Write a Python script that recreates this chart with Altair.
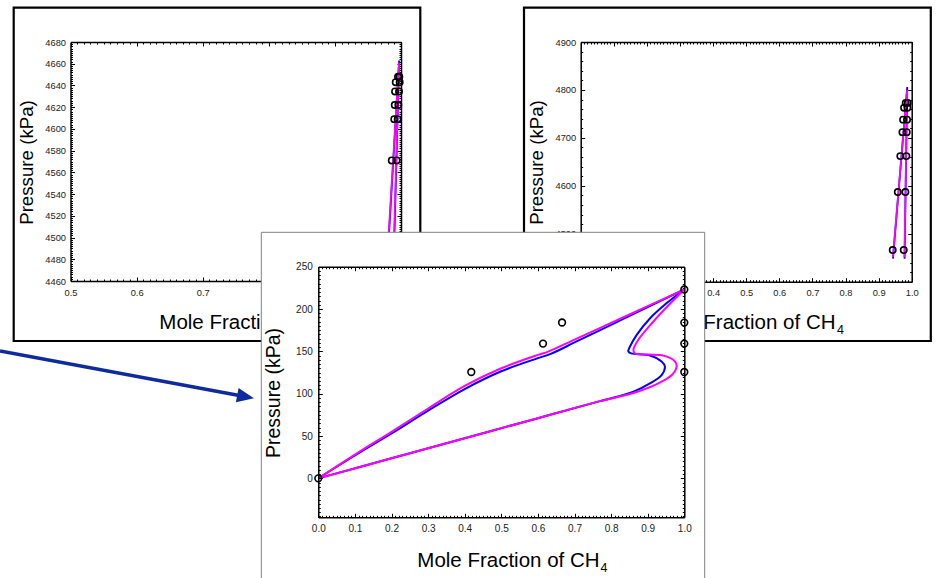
import altair as alt
import pandas as pd

W, H = 939, 578
FONT = "Liberation Sans"
NAVY = "#0d2b9e"
MAGENTA = "#ff00ff"
BLUE = "#0000ff"

# ---------------- Panel A (upper left) ----------------
a_exp_x = [0.986, 0.9935, 0.9898, 0.995, 0.9905, 0.996, 0.991, 0.997, 0.992, 0.998, 0.9955, 0.9975]
a_exp_p = [4571, 4571, 4609, 4609, 4622, 4622, 4634.5, 4634.5, 4643, 4643, 4648, 4648]
a_blu_x = [0.9785, 0.9972, 0.9885]
a_blu_p = [4468, 4663, 4468]
a_mag_x = [0.978, 0.997, 0.988]
a_mag_p = [4470, 4661, 4470]

# ---------------- Panel B (upper right) ----------------
b_exp_x = [0.9426, 0.976, 0.958, 0.981, 0.9656, 0.984, 0.972, 0.985, 0.974, 0.986, 0.977, 0.987, 0.982, 0.988]
b_exp_p = [4466, 4466, 4587, 4587, 4662, 4662, 4712, 4712, 4738, 4738, 4763, 4763, 4773, 4773]
b_blu_x = [0.9435, 0.9865, 0.9785]
b_blu_p = [4448, 4806, 4448]
b_mag_x = [0.943, 0.986, 0.978]
b_mag_p = [4451, 4800, 4451]

# ---------------- Panel C (front) ----------------
c_exp_x = [0.0, 0.418, 0.614, 0.666, 1.0, 1.0, 1.0, 1.0]
c_exp_p = [0.0, 125.6, 159.2, 184.1, 223.1, 184.0, 159.2, 125.6]
# upper branches (0 -> 1)
c_blu_up_x = [0.0, 0.1, 0.2, 0.3, 0.4, 0.5, 0.6, 0.635, 0.7, 0.8, 0.9, 1.0]
c_blu_up_p = [0, 27, 53, 80, 105.5, 126.5, 142, 147, 160.5, 181.4, 202.3, 223.1]
c_mag_up_x = [0.0, 0.1, 0.2, 0.3, 0.4, 0.5, 0.6, 0.628, 0.7, 0.8, 0.9, 1.0]
c_mag_up_p = [0, 28, 55, 82.5, 109.1, 130, 145.8, 149.7, 163.9, 183.6, 203.4, 223.1]
# S-loop and lower branches (1 -> 0)
c_blu_lo_x = [1.0, 0.952, 0.906, 0.87, 0.852, 0.847, 0.855, 0.906, 0.938, 0.947, 0.938,
              0.906, 0.861, 0.77, 0.6, 0.4, 0.2, 0.0]
c_blu_lo_p = [223.1, 207, 188.8, 169.4, 156, 150, 147.6, 145.2, 138, 132, 122,
              112.2, 102.4, 91.2, 71.1, 47.4, 23.7, 0]
c_mag_lo_x = [1.0, 0.958, 0.915, 0.874, 0.861, 0.865, 0.9, 0.943, 0.975, 0.979, 0.966,
              0.929, 0.861, 0.77, 0.6, 0.4, 0.2, 0.0]
c_mag_lo_p = [223.1, 205, 185, 163.5, 152, 147.5, 146.3, 145, 138, 132, 122,
              112.2, 100.8, 91.2, 71.1, 47.4, 23.7, 0]


def df(xs, ps, seg=0):
    return pd.DataFrame({"x": xs, "p": ps, "o": list(range(len(xs))), "s": [seg] * len(xs)})


def df2(a, b):
    return pd.concat([df(*a, seg=0), df(*b, seg=1)], ignore_index=True)


def ticks(lo, hi, step):
    n = int(round((hi - lo) / step))
    return [round(lo + i * step, 6) for i in range(n + 1)]


def panel(exp, blu, mag, xdom, ydom, xr, yr, xmaj, xmin, ymaj, ymin,
          xfmt, yfmt, lab_size, z, lw, psize, padx, pady, interp):
    x0, x1 = xr
    yt, yb = yr

    def sx():
        return alt.Scale(domain=xdom, range=[x0, x1], zero=False, nice=False)

    def sy():
        return alt.Scale(domain=ydom, range=[yb, yt], zero=False, nice=False)

    common = dict(grid=False, title=None, zindex=z, domainColor="black",
                  domainWidth=1.5, tickColor="black", tickWidth=1,
                  labelColor="#222222", labelFont=FONT, labelFontSize=lab_size,
                  labelFlush=False, labelOverlap=False)

    layers = [
        alt.Chart(blu).mark_line(color=BLUE, strokeWidth=lw, interpolate=interp).encode(
            x=alt.X("x:Q", scale=sx(), axis=None),
            y=alt.Y("p:Q", scale=sy(), axis=None), order="o:Q", detail="s:N"),
        alt.Chart(mag).mark_line(color=MAGENTA, strokeWidth=lw, interpolate=interp).encode(
            x=alt.X("x:Q", scale=sx(), axis=None),
            y=alt.Y("p:Q", scale=sy(), axis=None), order="o:Q", detail="s:N"),
        alt.Chart(exp).mark_point(shape="circle", filled=False, color="black",
                                  strokeWidth=1.6, size=psize, opacity=1).encode(
            x=alt.X("x:Q", scale=sx(), axis=None),
            y=alt.Y("p:Q", scale=sy(), axis=None)),
    ]

    specs = [
        (dict(orient="bottom", offset=yb - H, values=xmaj, format=xfmt, ticks=False,
              tickSize=0, domain=True, labels=True, labelPadding=padx),
         dict(orient="left", offset=-x0, values=ymaj, format=yfmt, ticks=False,
              tickSize=0, domain=True, labels=True, labelPadding=pady)),
        (dict(orient="top", offset=-yb, values=xmaj, labels=False, domain=False, tickSize=4),
         dict(orient="right", offset=x0 - W, values=ymaj, labels=False, domain=False, tickSize=4)),
        (dict(orient="top", offset=-yb, values=xmin, labels=False, domain=False, tickSize=2),
         dict(orient="right", offset=x0 - W, values=ymin, labels=False, domain=False, tickSize=2)),
        (dict(orient="bottom", offset=yt - H, values=xmaj, labels=False, domain=True, tickSize=4),
         dict(orient="left", offset=-x1, values=ymaj, labels=False, domain=True, tickSize=4)),
        (dict(orient="bottom", offset=yt - H, values=xmin, labels=False, domain=False, tickSize=2),
         dict(orient="left", offset=-x1, values=ymin, labels=False, domain=False, tickSize=2)),
    ]
    for xa, ya in specs:
        layers.append(
            alt.Chart(exp).mark_point(opacity=0).encode(
                x=alt.X("x:Q", scale=sx(), axis=alt.Axis(**common, **xa)),
                y=alt.Y("p:Q", scale=sy(), axis=alt.Axis(**common, **ya))))
    return layers


one = pd.DataFrame({"k": [0]})


def box(x0, y0, x1, y1, color, width, fill_op=0.0):
    return alt.Chart(one).mark_rect(fill="white", fillOpacity=fill_op, stroke=color,
                                    strokeWidth=width).encode(
        x=alt.value(x0), x2=alt.value(x1), y=alt.value(y0), y2=alt.value(y1))


def text(t, x, y, size, angle=0, align="center", baseline="alphabetic"):
    return alt.Chart(one).mark_text(text=t, fontSize=size, font=FONT, color="black",
                                    align=align, baseline=baseline, angle=angle).encode(
        x=alt.value(x), y=alt.value(y))


panelA = panel(df(a_exp_x, a_exp_p), df(a_blu_x, a_blu_p), df(a_mag_x, a_mag_p),
               [0.5, 1.0], [4460, 4680], (70.5, 401), (42, 281),
               ticks(0.5, 1.0, 0.1), ticks(0.5, 1.0, 0.01),
               ticks(4460, 4680, 20), ticks(4460, 4680, 2),
               ".1f", "d", 9.3, 0, 1.8, 40, 7, 5, "linear")

panelB = panel(df(b_exp_x, b_exp_p), df(b_blu_x, b_blu_p), df(b_mag_x, b_mag_p),
               [0.0, 1.0], [4400, 4900], (580.7, 911.7), (42, 281.7),
               ticks(0.0, 1.0, 0.1), ticks(0.0, 1.0, 0.01),
               ticks(4400, 4900, 100), ticks(4400, 4900, 20),
               ".1f", "d", 9.3, 0, 1.8, 40, 7, 5, "linear")

panelC = panel(df(c_exp_x, c_exp_p),
               df2((c_blu_up_x, c_blu_up_p), (c_blu_lo_x, c_blu_lo_p)),
               df2((c_mag_up_x, c_mag_up_p), (c_mag_lo_x, c_mag_lo_p)),
               [0.0, 1.0], [-46, 250], (318.3, 684.3), (266.7, 517.3),
               ticks(0.0, 1.0, 0.1), ticks(0.0, 1.0, 0.01),
               ticks(0, 250, 50), ticks(-45, 250, 5),
               ".1f", "d", 10, 1, 2, 45, 6, 6, "catmull-rom")

back_deco = [
    box(13.7, 7.7, 420.3, 341, "black", 2.2),
    box(524, 7.7, 930.8, 341, "black", 2.2),
    text("Pressure (kPa)", 26.7, 162.5, 18.7, angle=270, baseline="middle"),
    text("Mole Fraction of CH", 159.3, 329, 20.5, align="left"),
    text("Pressure (kPa)", 536.7, 162.5, 18.7, angle=270, baseline="middle"),
    text("Mole Fraction of CH", 835.5, 329.3, 20.5, align="right"),
    text("4", 837, 333.5, 12.5, align="left"),
]

front_box = [box(261.3, 232.3, 704.7, 600, "#808080", 1, fill_op=1.0)]

arrow = [
    alt.Chart(one).mark_rule(color=NAVY, strokeWidth=3.5).encode(
        x=alt.value(0), y=alt.value(351), x2=alt.value(246), y2=alt.value(396.7)),
    alt.Chart(one).mark_point(shape="M 1 0 L -1 -0.85 L -1 0.85 Z", filled=True,
                              color=NAVY, size=289, angle=10.55, opacity=1).encode(
        x=alt.value(245.6), y=alt.value(396.7)),
]

front_deco = [
    text("Pressure (kPa)", 273.5, 393, 19.5, angle=270, baseline="middle"),
    text("Mole Fraction of CH", 417.3, 567, 20.5, align="left"),
    text("4", 600.5, 572.3, 12.5, align="left"),
]

layers = panelA + panelB + back_deco + front_box + arrow + panelC + front_deco

chart = alt.layer(*layers).resolve_scale(
    x="independent", y="independent"
).resolve_axis(
    x="independent", y="independent"
).properties(
    width=W, height=H, padding=0,
    autosize=alt.AutoSizeParams(type="none"),
    background="white",
).configure_view(stroke="transparent")

chart.save("out.html", embed_options={"renderer": "svg", "actions": False})
